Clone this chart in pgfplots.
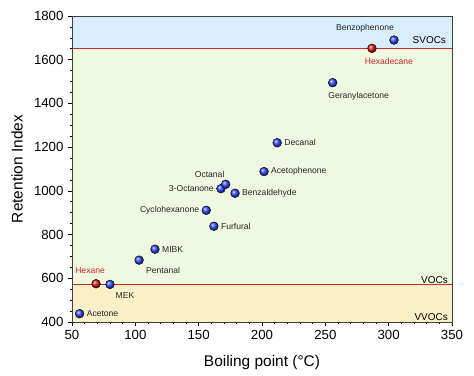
\documentclass[border=0pt]{standalone}
\usepackage{pgfplots}
\pgfplotsset{compat=1.18}
\usepackage{fontspec}
\setmainfont{Liberation Sans}
\definecolor{svoc}{HTML}{D9EEFB}
\definecolor{voc}{HTML}{EEF9DF}
\definecolor{vvoc}{HTML}{FAF0C8}
\definecolor{redline}{HTML}{C8282A}
\definecolor{ballblue}{HTML}{3048FF}
\definecolor{ballred}{HTML}{E01818}
\begin{document}
\begin{tikzpicture}[x=1bp,y=1bp]
\path[use as bounding box] (-72bp,-54bp) rectangle (402bp,322bp);
\begin{axis}[
  scale only axis,
  width=380bp, height=306bp,
  xmin=50, xmax=350, ymin=400, ymax=1800,
  xtick={50,100,...,350}, ytick={400,600,...,1800},
  minor x tick num=4, minor y tick num=3,
  tick align=outside,
  xtick pos=bottom, ytick pos=left,
  major tick length=4bp, minor tick length=2.2bp,
  every tick/.style={black, line width=0.6pt},
  axis line style={line width=0.9pt, draw=black!75},
  /pgf/number format/assume math mode=true,
  /pgf/number format/1000 sep={},
  tick label style={font=\fontsize{13.3}{15}\selectfont},
  xlabel={Boiling point (°C)},
  ylabel={Retention Index},
  every axis x label/.style={at={(axis description cs:0.5,0)}, anchor=center, yshift=-40.5bp, font=\fontsize{15.5}{17}\selectfont},
  every axis y label/.style={at={(axis description cs:0,0.5)}, anchor=center, xshift=-55bp, rotate=90, font=\fontsize{15.5}{17}\selectfont},
  yticklabel style={xshift=-1bp},
  xticklabel style={yshift=-1bp},
  clip=false,
  axis on top,
]
% region backgrounds
\addplot[draw=none, fill=vvoc] coordinates {(50,400) (350,400) (350,570) (50,570)} -- cycle;
\addplot[draw=none, fill=voc] coordinates {(50,570) (350,570) (350,1650) (50,1650)} -- cycle;
\addplot[draw=none, fill=svoc] coordinates {(50,1650) (350,1650) (350,1800) (50,1800)} -- cycle;
\addplot[redline, line width=0.8pt] coordinates {(50,570) (350,570)};
\addplot[redline, line width=0.8pt] coordinates {(50,1650) (350,1650)};
% region labels
\node[anchor=east, font=\fontsize{10}{12}\selectfont] at (axis cs:348,1690) {SVOCs};
\node[anchor=south east, font=\fontsize{10}{12}\selectfont, inner sep=1.5bp] at (axis cs:348,570) {VOCs};
\node[anchor=south east, font=\fontsize{10}{12}\selectfont, inner sep=1.5bp] at (axis cs:348,400) {VVOCs};
% blue compounds
\addplot[only marks, mark=ball, mark size=4.4bp, mark options={ball color=ballblue}, 
  nodes near coords, point meta=explicit symbolic,
  every node near coord/.style={font=\fontsize{8.6}{10}\selectfont, text=black!85, inner sep=1bp},
  visualization depends on={value \thisrow{pos} \as \labelpos},
  visualization depends on={value \thisrow{dx} \as \dx},
  visualization depends on={value \thisrow{dy} \as \dy},
  nodes near coords style={anchor=\labelpos, xshift=\dx bp, yshift=\dy bp},
] table[meta=name] {
x y name pos dx dy
56 438 Acetone west 6 0
80 572 MEK center 15 -11
103 683 Pentanal center 24 -10
115.5 733 MIBK west 6 0
156 911 Cyclohexanone east -6 0
162 838 Furfural west 6 0
167.6 1010 3-Octanone east -6 0
171.3 1030 Octanal center -16 10
178.7 989 Benzaldehyde west 6 0
201.6 1088 Acetophenone west 6 0
212 1220 Decanal west 6 0
255.8 1495 Geranylacetone center 26 -14
304.2 1690 Benzophenone center -29 12
};
% red reference alkanes
\addplot[only marks, mark=ball, mark size=4.4bp, mark options={ball color=ballred},
  nodes near coords, point meta=explicit symbolic,
  every node near coord/.style={font=\fontsize{8.6}{10}\selectfont, text=redline, inner sep=1bp},
  visualization depends on={value \thisrow{dx} \as \dx},
  visualization depends on={value \thisrow{dy} \as \dy},
  nodes near coords style={anchor=center, xshift=\dx bp, yshift=\dy bp},
] table[meta=name] {
x y name dx dy
69 575 Hexane -6 13
286.8 1652 Hexadecane 17 -13
};
\end{axis}
\end{tikzpicture}
\end{document}
